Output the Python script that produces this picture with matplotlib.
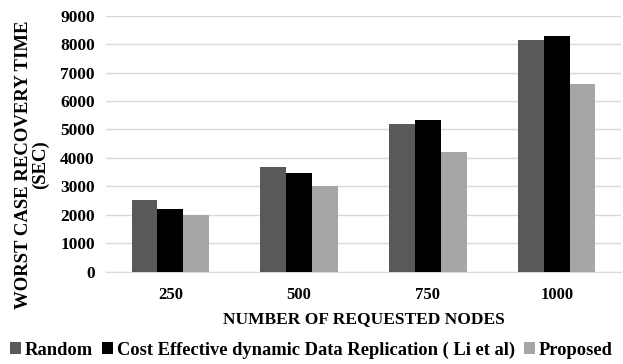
import numpy as np
import matplotlib
matplotlib.use("Agg")
import matplotlib.pyplot as plt

categories = ["250", "500", "750", "1000"]
random_vals = [2530, 3660, 5200, 8130]
li_vals = [2190, 3480, 5320, 8280]
proposed_vals = [1980, 3010, 4220, 6600]
series_names = ["Random", "Cost Effective dynamic Data Replication ( Li et al)", "Proposed"]
colors = ["#595959", "#000000", "#a6a6a6"]

plt.rcParams.update({
    "font.family": "Liberation Serif",
    "font.weight": "bold",
    "font.size": 12,
})

fig = plt.figure(figsize=(6.23, 3.64), dpi=100)
ax = fig.add_axes([0.170, 0.254, 0.827, 0.703])

x = np.arange(len(categories))
w = 0.2
for i, (vals, name, clr) in enumerate(zip([random_vals, li_vals, proposed_vals], series_names, colors)):
    ax.bar(x + (i - 1) * w, vals, w, color=clr, label=name, zorder=3)

ax.set_xlim(-0.5, len(categories) - 0.5)
ax.set_ylim(0, 9000)
ax.set_yticks(range(0, 9001, 1000))
ax.set_xticks(x)
ax.set_xticklabels(categories)
ax.yaxis.grid(True, color="#d9d9d9", lw=1, zorder=0)
for s in ["top", "right", "left"]:
    ax.spines[s].set_visible(False)
ax.spines["bottom"].set_color("#d9d9d9")
ax.tick_params(axis="y", length=0, labelsize=12.5, pad=8)
ax.tick_params(axis="x", length=0, labelsize=12, pad=11)
for lbl in ax.get_xticklabels() + ax.get_yticklabels():
    lbl.set_fontweight("bold")

ax.set_xlabel("NUMBER OF REQUESTED NODES", fontsize=12.5, fontweight="bold", labelpad=6)
fig.text(0.052, 0.547, "WORST CASE RECOVERY TIME\n(SEC)", rotation=90, ha="center", va="center",
         fontsize=13.5, fontweight="bold", linespacing=1.0)

fig.legend(loc="center", bbox_to_anchor=(0.5, 0.038), ncol=3, frameon=False,
           handlelength=0.6, handleheight=0.6, handletextpad=0.2, columnspacing=0.5,
           prop={"size": 13.3, "weight": "bold"})

fig.savefig("out.png", dpi=100)
